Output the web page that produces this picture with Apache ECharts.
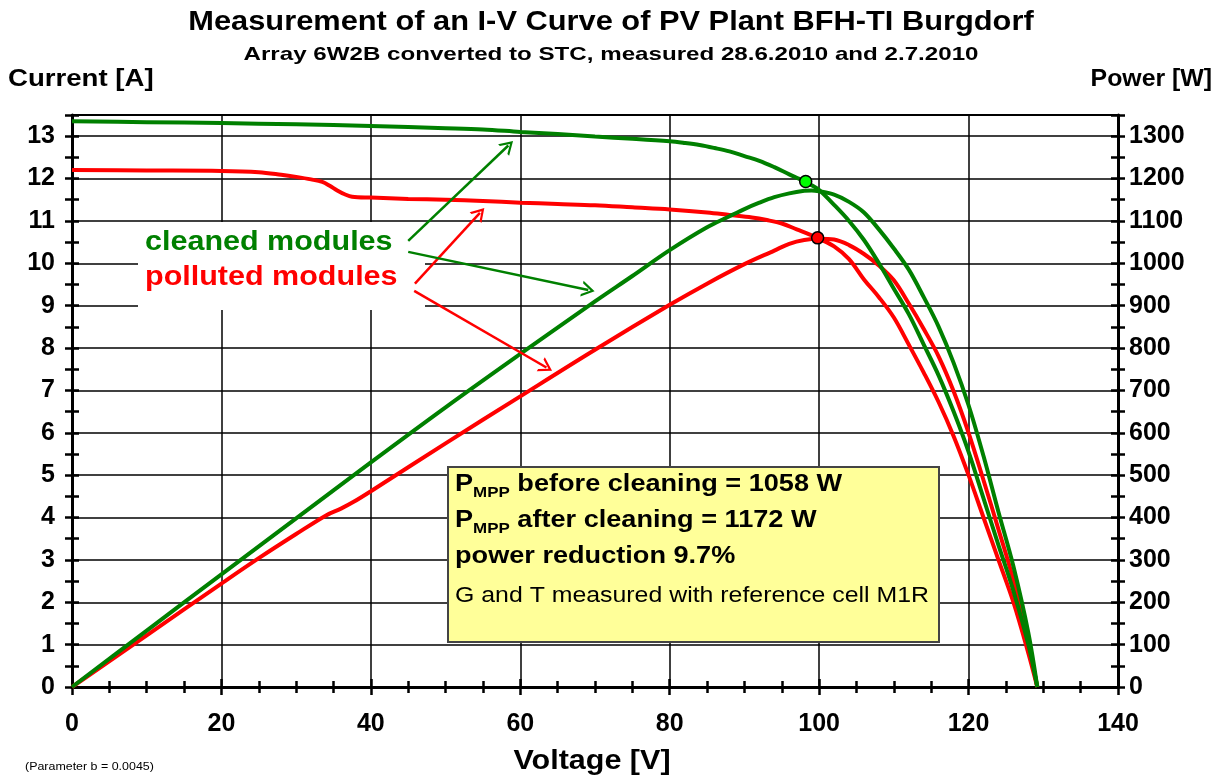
<!DOCTYPE html>
<html><head><meta charset="utf-8">
<script src="https://cdn.jsdelivr.net/npm/echarts/dist/echarts.min.js"></script>
<style>html,body{margin:0;padding:0;background:#fff}#c{width:1220px;height:778px}</style>
</head><body><div id="c"></div>
<script>
// ---------- data ----------
const cleanedIV_V = [0,10,20,30,40,50,55,60,65,70,75,80,82,84,86,88,90,92,94,96,97,98,99,100,102,104,106,108,110,112,114,116,118,120,122,124,126,128,129.2];
const cleanedIV_I = [13.35,13.33,13.31,13.28,13.24,13.19,13.16,13.1,13.05,12.99,12.94,12.88,12.84,12.79,12.72,12.64,12.53,12.42,12.27,12.1,12.02,11.94,11.84,11.73,11.38,11.0,10.55,10.0,9.4,8.8,8.08,7.35,6.5,5.55,4.45,3.35,2.27,1.0,0];

const cleanedP_V = [0,10,20,30,40,50,60,70,75,80,85,88,90,92,94,96,98,99,100,102,104,106,108,110,112,114,116,118,120,122,124,126,128,129.2];
const cleanedP_W = [0,133,266,398,530,660,786,910,970,1031,1085,1111,1128,1143,1156,1165,1171,1172,1170,1162,1145,1120,1080,1035,985,920,850,765,665,545,413,285,128,0];

const pollutedIV_V = [0,10,20,25,28,30,32,33.5,34.5,35.5,36.5,37.5,40,45,50,55,60,65,70,75,80,85,88,91,93,95,97,99,100,102,104,106,108,110,112,114,116,118,120,122,124,126,128,129.2];
const pollutedIV_I = [12.2,12.19,12.18,12.15,12.09,12.04,11.98,11.92,11.83,11.72,11.63,11.57,11.55,11.52,11.5,11.47,11.43,11.4,11.37,11.32,11.27,11.2,11.14,11.08,11.02,10.94,10.8,10.66,10.58,10.4,10.1,9.62,9.2,8.72,8.08,7.42,6.72,5.92,5.0,4.0,3.0,2.0,0.8,0];

const pollutedP_V = [0,10,20,25,30,34,36,37.7,40,50,60,70,80,85,90,94,96,98,100,102,104,106,108,110,112,114,116,118,120,122,124,126,128,129.2];
const pollutedP_W = [0,122,244,304,361,405,421,437,462,575,686,796,902,952,998,1030,1046,1055,1058,1056,1043,1022,995,960,905,845,780,698,600,488,372,252,102,0];

const mppCleaned = [98.2, 11.93];
const mppPolluted = [99.8, 10.6];

// arrow annotations [start, end] in (voltage, current) units
const arrowsCleaned = [[[45.0,10.53],[58.4,12.78]], [[45.0,10.27],[69.1,9.37]]];
const arrowsPolluted = [[[45.9,9.52],[54.6,11.19]], [[45.8,9.35],[63.5,7.54]]];

const titleText = 'Measurement of an I-V Curve of PV Plant BFH-TI Burgdorf';
const subtitleText = 'Array 6W2B converted to STC, measured 28.6.2010 and 2.7.2010';
const xName = 'Voltage [V]';
const yLeftName = 'Current [A]';
const yRightName = 'Power [W]';
const noteText = '(Parameter b = 0.0045)';
const labelCleaned = 'cleaned modules';
const labelPolluted = 'polluted modules';
const box1 = ['P', 'MPP', ' before cleaning = 1058 W'];
const box2 = ['P', 'MPP', ' after cleaning = 1172 W'];
const box3 = 'power reduction 9.7%';
const box4 = 'G and T measured with reference cell M1R';

// ---------- helpers ----------
const FF = '"Liberation Sans", Arial, sans-serif';
const S = 1.13; // horizontal text stretch of the reference
const GREEN = '#008000', RED = '#ff0000';
const pairs = (xs, ys) => xs.map((x, i) => [x, ys[i]]);
const cv = document.createElement('canvas').getContext('2d');
function tw(t, font) { cv.font = font; return cv.measureText(t).width; }
function txt(x, y, text, font, color, align, z, sx) {
  return {type:'text', x:x, y:y, scaleX:sx || S, z: z || 20,
    style:{text:text, font:font, fill:color, textAlign:align||'left', align:align||'left',
           textVerticalAlign:'middle', verticalAlign:'middle'}};
}
const chevron = 'path://M5,0 L10,10 L8.4,10 L5,3.2 L1.6,10 L0,10 Z';

const chart = echarts.init(document.getElementById('c'), null, {renderer:'canvas'});

const axisLbl = {fontSize:25, fontWeight:'bold', color:'#000', fontFamily:FF};
const tickStyle = {color:'#000', width:2.5};

function tickAxisY(pos, max, interval, inside) {
  return {type:'value', position:pos, min:0, max:max, interval:interval,
    axisLine:{show:false}, splitLine:{show:false}, axisLabel:{show:false},
    axisTick:{show:true, inside:inside, length:7, lineStyle:tickStyle}};
}

const boxX = 455;
const fMain = 'bold 24px ' + FF, fSub = 'bold 15px ' + FF, fNorm = '22px ' + FF;
function subLine(parts, y) {
  const w0 = tw(parts[0], fMain) * S, w1 = tw(parts[1], fSub) * S;
  return [txt(boxX, y, parts[0], fMain, '#000', 'left', 31),
          txt(boxX + w0, y + 8, parts[1], fSub, '#000', 'left', 31),
          txt(boxX + w0 + w1, y, parts[2], fMain, '#000', 'left', 31)];
}

const lineCommon = {showSymbol:false, smooth:0.35, xAxisIndex:0, type:'line'};

const option = {
  animation:false,
  backgroundColor:'#fff',
  grid:{left:72, right:102, top:115, bottom:91, show:true, borderColor:'#000', borderWidth:2, backgroundColor:'transparent'},
  xAxis:[
    {type:'value', position:'bottom', min:0, max:140, interval:20,
     axisLine:{show:true, onZero:false, lineStyle:{color:'#000', width:3}},
     axisTick:{show:true, length:8, lineStyle:tickStyle},
     minorTick:{show:true, splitNumber:4, length:6, lineStyle:tickStyle},
     splitLine:{show:true, lineStyle:{color:'#000', width:1.5}},
     axisLabel:Object.assign({margin:25}, axisLbl)},
    {type:'value', position:'bottom', min:0, max:140, interval:20,
     axisLine:{show:false}, splitLine:{show:false}, axisLabel:{show:false},
     axisTick:{show:true, inside:true, length:8, lineStyle:tickStyle},
     minorTick:{show:true, splitNumber:4, length:6, lineStyle:tickStyle}}
  ],
  yAxis:[
    {type:'value', position:'left', min:0, max:13.5, interval:1,
     axisLine:{show:true, onZero:false, lineStyle:{color:'#000', width:3}},
     axisTick:{show:false},
     splitLine:{show:true, lineStyle:{color:'#000', width:1.5}},
     axisLabel:Object.assign({margin:17, formatter:v => Number.isInteger(v) ? String(v) : ''}, axisLbl)},
    tickAxisY('left', 13.5, 0.5, false),
    tickAxisY('left', 13.5, 0.5, true),
    {type:'value', position:'right', min:0, max:1350, interval:100,
     axisLine:{show:true, onZero:false, lineStyle:{color:'#000', width:3}},
     axisTick:{show:false}, splitLine:{show:false},
     axisLabel:Object.assign({margin:11, formatter:v => (v % 100 === 0) ? String(v) : ''}, axisLbl)},
    tickAxisY('right', 1350, 50, false),
    tickAxisY('right', 1350, 50, true)
  ],
  series:[
    Object.assign({name:'polluted I', yAxisIndex:0, data:pairs(pollutedIV_V, pollutedIV_I),
     lineStyle:{color:RED, width:4}, z:3,
     markLine:{silent:true, symbol:['none', chevron], symbolSize:[16,13], label:{show:false},
       lineStyle:{color:RED, width:2.5, type:'solid'},
       data:arrowsPolluted.map(a => [{coord:a[0]}, {coord:a[1]}])}}, lineCommon),
    Object.assign({name:'polluted P', yAxisIndex:3, data:pairs(pollutedP_V, pollutedP_W),
     lineStyle:{color:RED, width:4}, z:3}, lineCommon),
    Object.assign({name:'cleaned I', yAxisIndex:0, data:pairs(cleanedIV_V, cleanedIV_I),
     lineStyle:{color:GREEN, width:4}, z:4,
     markLine:{silent:true, symbol:['none', chevron], symbolSize:[16,13], label:{show:false},
       lineStyle:{color:GREEN, width:2.5, type:'solid'},
       data:arrowsCleaned.map(a => [{coord:a[0]}, {coord:a[1]}])}}, lineCommon),
    Object.assign({name:'cleaned P', yAxisIndex:3, data:pairs(cleanedP_V, cleanedP_W),
     lineStyle:{color:GREEN, width:4}, z:4}, lineCommon),
    {name:'MPP cleaned', type:'scatter', xAxisIndex:0, yAxisIndex:0, data:[mppCleaned], symbolSize:12,
     itemStyle:{color:'#00ff00', borderColor:'#000', borderWidth:1.5, opacity:1}, z:6},
    {name:'MPP polluted', type:'scatter', xAxisIndex:0, yAxisIndex:0, data:[mppPolluted], symbolSize:12,
     itemStyle:{color:'#ff0000', borderColor:'#000', borderWidth:1.5, opacity:1}, z:6}
  ],
  graphic:[
    txt(611, 22, titleText, 'bold 28px ' + FF, '#000', 'center', 20, 1.10),
    txt(611, 55, subtitleText, 'bold 19px ' + FF, '#000', 'center', 20, 1.27),
    txt(8, 80, yLeftName, 'bold 23px ' + FF, '#000', 'left', 20, 1.2),
    txt(1212, 80, yRightName, 'bold 23px ' + FF, '#000', 'right', 20, 1.08),
    txt(592, 762, xName, 'bold 27px ' + FF, '#000', 'center'),
    txt(25, 767, noteText, '11px ' + FF, '#000', 'left'),
    {type:'rect', z:1, shape:{x:138, y:222, width:287, height:88}, style:{fill:'#fff'}},
    txt(145, 243, labelCleaned, 'bold 27px ' + FF, GREEN, 'left', 2),
    txt(145, 278, labelPolluted, 'bold 27px ' + FF, RED, 'left', 2),
    {type:'rect', z:30, shape:{x:448, y:467, width:491, height:175}, style:{fill:'#ffff99', stroke:'#444', lineWidth:2}},
    ...subLine(box1, 484.5),
    ...subLine(box2, 520.5),
    txt(boxX, 556, box3, fMain, '#000', 'left', 31),
    txt(boxX, 596, box4, fNorm, '#000', 'left', 31)
  ]
};
chart.setOption(option);
</script></body></html>
